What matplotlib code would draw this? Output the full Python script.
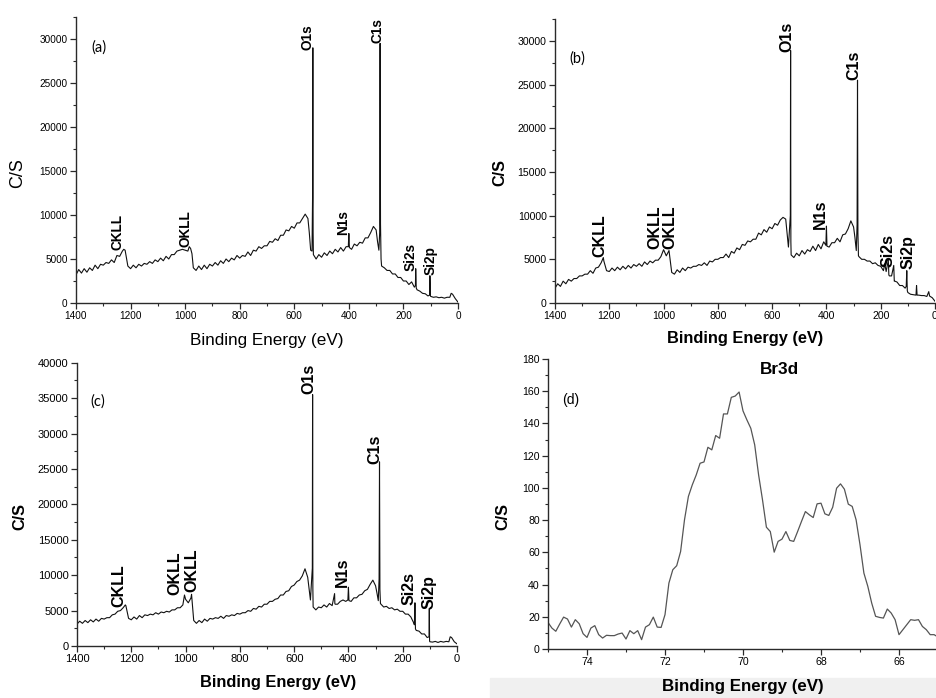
import matplotlib
matplotlib.use("Agg")
import matplotlib.pyplot as plt
import numpy as np
from matplotlib.patches import Rectangle
from matplotlib.ticker import MultipleLocator, AutoMinorLocator, FormatStrFormatter

plt.rcParams["font.family"] = ["Liberation Sans", "DejaVu Sans"]

W, H = 936, 698

# survey scans: counts read every 10 eV from 1400 down to 0
survey_grid = np.arange(1400, -1, -10)

base_a = [
    3200, 3800, 3400, 3900, 3500, 4000, 3700, 4300, 3900, 4400,   # 1400
    4300, 4600, 4500, 4900, 4600, 5400, 5300, 5900, 6000, 4200,   # 1300
    3900, 4300, 4000, 4400, 4200, 4500, 4400, 4700, 4500, 4900,   # 1200
    4700, 5100, 4800, 5300, 5000, 5500, 5500, 5900, 6000, 6100,   # 1100
    6000, 5900, 6200, 4000, 3700, 4200, 3800, 4300, 3900, 4400,   # 1000
    4200, 4600, 4300, 4800, 4500, 5000, 4700, 5100, 4900, 5400,   # 900
    5100, 5400, 5300, 5800, 5400, 6000, 5900, 6400, 6200, 6500,   # 800
    6500, 7000, 6900, 7300, 7100, 7700, 7700, 8300, 8200, 8700,   # 700
    8500, 9100, 9100, 9600, 10100, 9600, 6000, 5500, 5000, 5500,  # 600
    5200, 5700, 5400, 5900, 5600, 6100, 5800, 6300, 5900, 6400,   # 500
    7900, 6100, 6700, 6500, 6900, 6800, 7400, 7400, 8000, 8700,   # 400
    8300, 6000, 4200, 4000, 3700, 3700, 3300, 3300, 2900, 2900,   # 300
    2500, 2500, 2100, 2400, 1800, 1500, 1350, 1100, 1050, 800,    # 200
    750, 650, 700, 600, 650, 550, 650, 650, 1000, 500,            # 100
    100,                                                          # 0
]
peak_be_a = [1225, 985, 975, 545, 535, 533, 532, 531, 402, 398, 295,
             287, 285.5, 284, 282, 156, 155, 153, 104, 103, 101, 25]
peak_cps_a = [6100, 6400, 5600, 8000, 5900, 12000, 29000, 8000, 6400, 6300, 7000,
              8000, 29500, 9000, 5000, 2000, 3900, 1700, 900, 3100, 800, 1100]

base_b = [
    1700, 2200, 1900, 2500, 2200, 2700, 2500, 2800, 2800, 3100,   # 1400
    3100, 3300, 3300, 3700, 3400, 4000, 4100, 4600, 4800, 3700,   # 1300
    3600, 4000, 3700, 4100, 3800, 4200, 3900, 4300, 4000, 4400,   # 1200
    4200, 4500, 4200, 4700, 4400, 4800, 4600, 4900, 4900, 5300,   # 1100
    6100, 5400, 6000, 3500, 3300, 3800, 3500, 4000, 3700, 4100,   # 1000
    4000, 4200, 4200, 4400, 4300, 4600, 4300, 4800, 4700, 5000,   # 900
    5000, 5200, 5200, 5600, 5200, 5900, 5700, 6300, 6100, 6700,   # 800
    6600, 7100, 7000, 7300, 7300, 8000, 7800, 8400, 8100, 8700,   # 700
    8500, 9100, 8900, 9500, 9800, 9600, 6400, 5500, 5200, 5700,   # 600
    5400, 6000, 5600, 6100, 5900, 6500, 6000, 6700, 6200, 7000,   # 500
    8800, 6400, 6900, 6900, 7400, 7000, 7800, 7900, 8500, 9400,   # 400
    8700, 6000, 5300, 5000, 5000, 4800, 4800, 4500, 4600, 4300,   # 300
    4200, 3700, 3600, 3200, 3100, 2500, 2400, 2000, 2000, 1700,   # 200
    1200, 1000, 950, 900, 900, 850, 850, 750, 800, 600,           # 100
    200,                                                          # 0
]
peak_be_b = [1222, 533, 532, 531, 402, 398, 295, 287, 285.5, 284, 282,
             185, 172, 168, 152, 148, 106, 104, 102, 68, 66, 23]
peak_cps_b = [5200, 10000, 28900, 7000, 6600, 6500, 7500, 9000, 25500, 8000, 5400,
              4500, 4900, 3100, 4300, 2500, 1900, 3700, 1400, 2000, 900, 1300]

base_c = [
    3100, 3500, 3200, 3600, 3300, 3700, 3400, 3800, 3500, 3900,   # 1400
    3800, 4000, 4000, 4400, 4500, 4900, 5000, 5400, 5700, 3900,   # 1300
    3700, 4100, 3800, 4300, 4000, 4400, 4300, 4500, 4400, 4700,   # 1200
    4500, 4800, 4700, 4900, 4800, 5100, 5100, 5400, 5400, 5800,   # 1100
    6600, 6100, 6800, 3600, 3200, 3600, 3300, 3800, 3500, 3900,   # 1000
    3800, 4000, 3900, 4200, 3900, 4300, 4200, 4400, 4300, 4600,   # 900
    4500, 4700, 4700, 5000, 4900, 5300, 5200, 5600, 5500, 5900,   # 800
    5900, 6300, 6300, 6600, 6700, 7200, 7200, 7700, 7800, 8400,   # 700
    8600, 9100, 9300, 9900, 10900, 9700, 6500, 5500, 5100, 5500,  # 600
    5400, 5800, 5500, 6000, 5700, 6000, 5900, 6300, 6500, 6300,   # 500
    8300, 6300, 6800, 6800, 7200, 7300, 7800, 8000, 8700, 9300,   # 400
    8500, 6400, 5900, 5500, 5600, 5300, 5400, 5100, 5200, 4900,   # 300
    4900, 4500, 4500, 4100, 3300, 2200, 2100, 1700, 1700, 1200,   # 200
    600, 550, 650, 500, 650, 550, 650, 600, 1200, 600,            # 100
    300,                                                          # 0
]
peak_be_c = [1222, 1004, 978, 533, 532, 531, 451, 449, 402, 398, 295, 287,
             285.5, 284, 282, 157, 155, 153, 103, 102, 101, 25]
peak_cps_c = [5800, 7200, 7300, 11000, 35500, 8000, 7400, 5900, 6500, 6400, 7500, 9500,
              26000, 8000, 6000, 3000, 6100, 2400, 1300, 5300, 700, 1300]

# Br3d narrow scan, 75.0 -> 65.0 eV in 0.1 eV steps
br_be = np.round(np.linspace(75.0, 65.0, 101), 1)
br_cps = [
    16.5, 13, 11, 15.5, 19.8, 18.6, 13.6, 18.2, 15.7, 9.5,
    7.2, 13, 14.5, 8.9, 6.8, 8.5, 8.3, 8.3, 9.3, 9.9,
    6.2, 11.4, 9.5, 11.4, 5.8, 13.6, 15.1, 19.8, 13.6, 13.4,
    21.3, 40.9, 49.2, 51.7, 60.5, 80.2, 94.7, 101.9, 108, 115.3,
    116.1, 125.2, 123.6, 132.5, 130.8, 145.9, 145.9, 156.2, 157, 159.5,
    147.8, 142.2, 137, 126.7, 108.1, 92.6, 75.6, 72.9, 60.1, 66.8,
    68.2, 72.9, 67.4, 66.8, 72.9, 79.2, 85.3, 83.3, 81.6, 90.1,
    90.5, 83.9, 82.9, 88, 99.8, 102.5, 99.2, 89.9, 88.5, 80.2,
    64.7, 47.1, 38.9, 28.5, 20.3, 19.6, 19.2, 24.8, 22.3, 18.2,
    8.9, 12, 15.1, 18.2, 17.8, 18.2, 14, 12, 8.9, 8.9,
    7.4,
]

labels_a = [("CKLL", 1248, 6020), ("OKLL", 1000, 6400), ("O1s", 552, 28750),
            ("N1s", 420, 7730), ("C1s", 294, 29580), ("Si2s", 173, 3670),
            ("Si2p", 100, 3180)]
labels_b = [("CKLL", 1235, 5270), ("OKLL", 1032, 6230), ("OKLL", 977, 6230),
            ("O1s", 547, 28740), ("N1s", 422, 8520), ("C1s", 299, 25500),
            ("Si2s", 172, 4120), ("Si2p", 98, 3940)]
labels_c = [("CKLL", 1247, 5510), ("OKLL", 1038, 7160), ("OKLL", 976, 7630),
            ("O1s", 547, 35650), ("N1s", 424, 8340), ("C1s", 301, 25760),
            ("Si2s", 175, 5750), ("Si2p", 102, 5280)]


def merged(base, extra_be, extra_cps):
    be = np.concatenate([survey_grid, extra_be])
    cps = np.concatenate([base, extra_cps])
    order = np.argsort(-be, kind="stable")
    return be[order], cps[order]


def box(left, top, right, bottom):
    return [left / W, 1 - bottom / H, (right - left) / W, (bottom - top) / H]


def fpos(x, y):
    return x / W, 1 - y / H


def style(ax, xlim, ylim, xstep, ystep, tsize):
    ax.set_xlim(*xlim)
    ax.set_ylim(*ylim)
    for s in ("top", "right"):
        ax.spines[s].set_visible(False)
    for s in ("left", "bottom"):
        ax.spines[s].set_linewidth(1.0)
        ax.spines[s].set_color("#2a2a2a")
    ax.xaxis.set_major_locator(MultipleLocator(xstep))
    ax.yaxis.set_major_locator(MultipleLocator(ystep))
    ax.xaxis.set_minor_locator(AutoMinorLocator(2))
    ax.yaxis.set_minor_locator(AutoMinorLocator(2))
    ax.yaxis.set_major_formatter(FormatStrFormatter("%d"))
    ax.xaxis.set_major_formatter(FormatStrFormatter("%d"))
    ax.tick_params(which="major", direction="out", length=4, width=0.9,
                   color="#2a2a2a", labelsize=tsize, pad=2)
    ax.tick_params(which="minor", direction="out", length=2.5, width=0.8,
                   color="#2a2a2a")


def put_labels(ax, xl, yl, xc, yc, size, weight):
    ax.set_xlabel(xl, fontsize=size[0], fontweight=weight[0])
    ax.set_ylabel(yl, fontsize=size[1], fontweight=weight[1])
    ax.xaxis.set_label_coords(*fpos(*xc), transform=ax.figure.transFigure)
    ax.yaxis.set_label_coords(*fpos(*yc), transform=ax.figure.transFigure)
    ax.xaxis.label.set_va("center")
    ax.yaxis.label.set_va("center")


def peak_text(ax, items, size):
    for name, e, y in items:
        ax.text(e, y, name, rotation=90, ha="center", va="bottom",
                fontsize=size, fontweight="bold")


fig = plt.figure(figsize=(W / 100, H / 100), dpi=100)
fig.add_artist(Rectangle((490 / W, 0), 1 - 490 / W, 20 / H,
                         transform=fig.transFigure, color="#f0f0f0", zorder=-5))

# (a)
ax = fig.add_axes(box(76, 17, 458, 303))
be, cps = merged(base_a, peak_be_a, peak_cps_a)
ax.plot(be, cps, color="#111111", lw=0.8)
style(ax, (1400, 0), (0, 32500), 200, 5000, 7.2)
peak_text(ax, labels_a, 9.8)
put_labels(ax, "Binding Energy (eV)", "C/S", (267, 340), (18, 173),
           (12.3, 13), ("normal", "normal"))
fig.text(*fpos(99, 48), "(a)", family="Lato", fontsize=10.5, ha="center", va="center")

# (b)
ax = fig.add_axes(box(555, 19, 935, 303))
be, cps = merged(base_b, peak_be_b, peak_cps_b)
ax.plot(be, cps, color="#111111", lw=0.8)
style(ax, (1400, 0), (0, 32500), 200, 5000, 7.6)
peak_text(ax, labels_b, 11.5)
put_labels(ax, "Binding Energy (eV)", "C/S", (745, 339), (500, 173),
           (11.8, 11.7), ("bold", "bold"))
fig.text(*fpos(577, 59), "(b)", family="Lato", fontsize=10.5, ha="center", va="center")

# (c)
ax = fig.add_axes(box(77, 362.7, 457, 646))
be, cps = merged(base_c, peak_be_c, peak_cps_c)
ax.plot(be, cps, color="#111111", lw=0.8)
style(ax, (1400, 0), (0, 40000), 200, 5000, 8)
peak_text(ax, labels_c, 11.5)
put_labels(ax, "Binding Energy (eV)", "C/S", (278, 683), (20, 517),
           (11.8, 11.7), ("bold", "bold"))
fig.text(*fpos(98, 402), "(c)", family="Lato", fontsize=10.5, ha="center", va="center")

# (d)
ax = fig.add_axes(box(548, 359, 938, 649))
ax.plot(br_be, br_cps, color="#555555", lw=0.9)
style(ax, (75, 65), (0, 180), 2, 20, 7.6)
put_labels(ax, "Binding Energy (eV)", "C/S", (743, 687), (503, 517),
           (12.2, 11.7), ("bold", "bold"))
fig.text(*fpos(779, 369), "Br3d", fontsize=12.3, fontweight="bold", ha="center", va="center")
fig.text(*fpos(571, 400), "(d)", fontsize=10, ha="center", va="center")

fig.savefig("out.png", dpi=100)
